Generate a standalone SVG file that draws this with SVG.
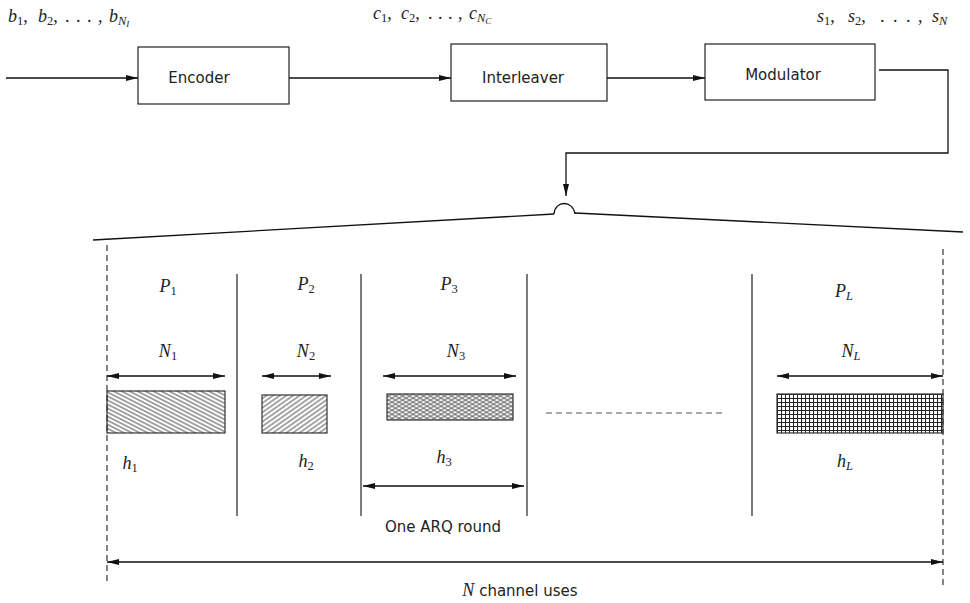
<svg xmlns="http://www.w3.org/2000/svg" width="970" height="603" viewBox="0 0 970 603">
<style>
.box{fill:#fff;stroke:#222;stroke-width:1.2}
.ln{fill:none;stroke:#111;stroke-width:1.3}
.vl{fill:none;stroke:#222;stroke-width:1.2}
.dash{fill:none;stroke:#333;stroke-width:1.2;stroke-dasharray:6 4}
.sans{font-family:"DejaVu Sans","Liberation Sans",sans-serif;font-size:15px;fill:#222}
.m{font-family:"Liberation Serif","DejaVu Serif",serif;font-size:18px;fill:#222}
.it{font-style:italic}
.sub{font-size:12.5px}
</style>
<defs>
<marker id="ah" viewBox="0 0 12 6" refX="12" refY="3" markerWidth="12" markerHeight="6" markerUnits="userSpaceOnUse" orient="auto-start-reverse">
<path d="M0,0 L12,3 L0,6 Z" fill="#111"/>
</marker>
<pattern id="p1" width="3.6" height="3.6" patternUnits="userSpaceOnUse" patternTransform="rotate(27)">
<line x1="0" y1="1.8" x2="3.6" y2="1.8" stroke="#222" stroke-width="0.8"/>
</pattern>
<pattern id="p2" width="3.8" height="3.8" patternUnits="userSpaceOnUse" patternTransform="rotate(-35)">
<line x1="0" y1="1.9" x2="3.8" y2="1.9" stroke="#222" stroke-width="0.8"/>
</pattern>
<pattern id="p3a" width="3.5" height="3.5" patternUnits="userSpaceOnUse" patternTransform="rotate(30)">
<line x1="0" y1="1.75" x2="3.5" y2="1.75" stroke="#444" stroke-width="0.8"/>
</pattern>
<pattern id="p3b" width="3.5" height="3.5" patternUnits="userSpaceOnUse" patternTransform="rotate(-30)">
<line x1="0" y1="1.75" x2="3.5" y2="1.75" stroke="#444" stroke-width="0.8"/>
</pattern>
<pattern id="pL" width="4" height="4" patternUnits="userSpaceOnUse" x="777" y="394">
<path d="M0,0.5 H4 M0.5,0 V4" stroke="#222" stroke-width="1"/>
</pattern>
</defs>

<g id="labels-top">
<text class="m" y="22"><tspan class="it" x="8">b</tspan><tspan class="sub" dy="3">1</tspan><tspan dy="-3">,</tspan><tspan class="it" x="38">b</tspan><tspan class="sub" dy="3">2</tspan><tspan dy="-3">,</tspan><tspan x="65">.</tspan><tspan x="76">.</tspan><tspan x="87">.</tspan><tspan x="98">,</tspan><tspan class="it" x="109">b</tspan><tspan class="sub it" dy="3">N</tspan><tspan class="it" font-size="9" dy="2">I</tspan></text>
<text class="m" y="19"><tspan class="it" x="373">c</tspan><tspan class="sub" dy="3">1</tspan><tspan dy="-3">,</tspan><tspan class="it" x="401">c</tspan><tspan class="sub" dy="3">2</tspan><tspan dy="-3">,</tspan><tspan x="428">.</tspan><tspan x="438">.</tspan><tspan x="448">.</tspan><tspan x="458">,</tspan><tspan class="it" x="469">c</tspan><tspan class="sub it" dy="3">N</tspan><tspan class="it" font-size="9" dy="2">C</tspan></text>
<text class="m" y="22"><tspan class="it" x="817">s</tspan><tspan class="sub" dy="3">1</tspan><tspan dy="-3">,</tspan><tspan class="it" x="848">s</tspan><tspan class="sub" dy="3">2</tspan><tspan dy="-3">,</tspan><tspan x="880">.</tspan><tspan x="893">.</tspan><tspan x="906">.</tspan><tspan x="918">,</tspan><tspan class="it" x="932">s</tspan><tspan class="sub it" dy="3">N</tspan></text>
</g>

<g id="encoder">
<rect class="box" x="138" y="47" width="151" height="57"/>
<text class="sans" x="199" y="83" text-anchor="middle">Encoder</text>
</g>
<g id="interleaver">
<rect class="box" x="451" y="44" width="156" height="57"/>
<text class="sans" x="523" y="83" text-anchor="middle">Interleaver</text>
</g>
<g id="modulator">
<rect class="box" x="705" y="44" width="170" height="56"/>
<text class="sans" x="783" y="80" text-anchor="middle">Modulator</text>
</g>

<g id="connectors">
<line class="ln" x1="6" y1="78" x2="138" y2="78" marker-end="url(#ah)"/>
<line class="ln" x1="289" y1="78" x2="451" y2="78" marker-end="url(#ah)"/>
<line class="ln" x1="607" y1="78" x2="705" y2="78" marker-end="url(#ah)"/>
<path class="ln" d="M879,70 H948 V153 H566 V196" marker-end="url(#ah)"/>
</g>

<g id="frame">
<path class="ln" d="M554,214 C555,200 573,200 575,214"/>
<line class="ln" x1="93" y1="240" x2="554" y2="214"/>
<line class="ln" x1="575" y1="213" x2="963" y2="232"/>
<line class="dash" x1="107" y1="245" x2="107" y2="582"/>
<line class="dash" x1="943" y1="249" x2="943" y2="588"/>
<line class="vl" x1="237" y1="274" x2="237" y2="516"/>
<line class="vl" x1="361" y1="274" x2="361" y2="516"/>
<line class="vl" x1="527" y1="274" x2="527" y2="516"/>
<line class="vl" x1="752" y1="274" x2="752" y2="516"/>
<line x1="546" y1="413" x2="725" y2="413" stroke="#555" stroke-width="1.2" stroke-dasharray="6 4"/>
</g>

<g id="packet1">
<text class="m" x="168" y="292" text-anchor="middle"><tspan class="it">P</tspan><tspan class="sub" dy="3">1</tspan></text>
<text class="m" x="168" y="357" text-anchor="middle"><tspan class="it">N</tspan><tspan class="sub" dy="3">1</tspan></text>
<line class="ln" x1="107" y1="376" x2="225" y2="376" marker-start="url(#ah)" marker-end="url(#ah)"/>
<rect x="107" y="391" width="118" height="42" fill="url(#p1)" stroke="#333" stroke-width="1.2"/>
<text class="m" x="130" y="469" text-anchor="middle"><tspan class="it">h</tspan><tspan class="sub" dy="3">1</tspan></text>
</g>
<g id="packet2">
<text class="m" x="306" y="290" text-anchor="middle"><tspan class="it">P</tspan><tspan class="sub" dy="3">2</tspan></text>
<text class="m" x="306" y="357" text-anchor="middle"><tspan class="it">N</tspan><tspan class="sub" dy="3">2</tspan></text>
<line class="ln" x1="262" y1="376" x2="331" y2="376" marker-start="url(#ah)" marker-end="url(#ah)"/>
<rect x="262" y="395" width="65" height="38" fill="url(#p2)" stroke="#333" stroke-width="1.2"/>
<text class="m" x="306" y="467" text-anchor="middle"><tspan class="it">h</tspan><tspan class="sub" dy="3">2</tspan></text>
</g>
<g id="packet3">
<text class="m" x="449" y="290" text-anchor="middle"><tspan class="it">P</tspan><tspan class="sub" dy="3">3</tspan></text>
<text class="m" x="456" y="357" text-anchor="middle"><tspan class="it">N</tspan><tspan class="sub" dy="3">3</tspan></text>
<line class="ln" x1="383" y1="376" x2="516" y2="376" marker-start="url(#ah)" marker-end="url(#ah)"/>
<rect x="387" y="394" width="126" height="26" fill="url(#p3a)"/>
<rect x="387" y="394" width="126" height="26" fill="url(#p3b)" stroke="#333" stroke-width="1.2"/>
<text class="m" x="444" y="463" text-anchor="middle"><tspan class="it">h</tspan><tspan class="sub" dy="3">3</tspan></text>
<line class="ln" x1="363" y1="486" x2="524" y2="486" marker-start="url(#ah)" marker-end="url(#ah)"/>
<text class="sans" x="443" y="532" text-anchor="middle">One ARQ round</text>
</g>
<g id="packetL">
<text class="m" x="844" y="297" text-anchor="middle"><tspan class="it">P</tspan><tspan class="sub it" dy="3">L</tspan></text>
<text class="m" x="851" y="357" text-anchor="middle"><tspan class="it">N</tspan><tspan class="sub it" dy="3">L</tspan></text>
<line class="ln" x1="777" y1="376" x2="943" y2="376" marker-start="url(#ah)" marker-end="url(#ah)"/>
<rect x="777" y="394" width="166" height="39" fill="url(#pL)" stroke="#333" stroke-width="1.2"/>
<text class="m" x="845" y="467" text-anchor="middle"><tspan class="it">h</tspan><tspan class="sub it" dy="3">L</tspan></text>
</g>

<g id="total">
<line class="ln" x1="107" y1="562" x2="943" y2="562" marker-start="url(#ah)" marker-end="url(#ah)"/>
<text x="520" y="596" text-anchor="middle"><tspan class="m it">N</tspan><tspan class="sans"> channel uses</tspan></text>
</g>
</svg>
